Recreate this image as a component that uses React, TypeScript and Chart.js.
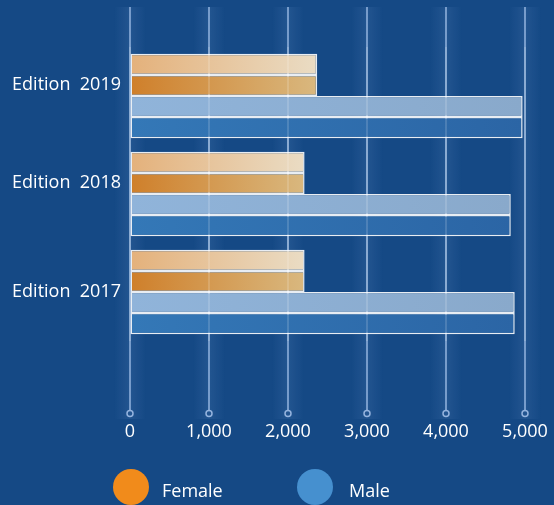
import React, { useEffect, useRef } from "react";
import { Chart, registerables } from "chart.js";

Chart.register(...registerables);

const categories = ["Edition  2019", "Edition  2018", "Edition  2017"];
const femaleValues = [2370, 2210, 2210];
const maleValues = [4970, 4820, 4870];
const xTickMin = 0;
const xTickMax = 5000;
const xTickStep = 1000;
const seriesNames = ["Female", "Male"];
const legendColors = ["#f18b1b", "#4690cf"];

const FONT = "'Open Sans', 'DejaVu Sans', sans-serif";

function barGradient(left: string, right: string) {
  return (ctx: any) => {
    const chart = ctx.chart;
    const xs = chart.scales && chart.scales.x;
    if (!xs || !chart.chartArea || ctx.raw == null) return left;
    const x0 = xs.getPixelForValue(0);
    const x1 = xs.getPixelForValue(ctx.raw);
    if (!isFinite(x0) || !isFinite(x1) || x1 === x0) return left;
    const g = chart.ctx.createLinearGradient(x0, 0, x1, 0);
    g.addColorStop(0, left);
    g.addColorStop(1, right);
    return g;
  };
}

const gridPlugin = {
  id: "customGrid",
  beforeDatasetsDraw(chart: any) {
    const { ctx } = chart;
    const xs = chart.scales.x;
    ctx.save();
    xs.ticks.forEach((_t: any, i: number) => {
      const x = xs.getPixelForTick(i);
      const g = ctx.createLinearGradient(x - 16, 0, x + 16, 0);
      g.addColorStop(0, "rgba(130,170,225,0)");
      g.addColorStop(0.5, "rgba(130,170,225,0.13)");
      g.addColorStop(1, "rgba(130,170,225,0)");
      ctx.fillStyle = g;
      ctx.fillRect(x - 16, 7, 32, 412);
      ctx.strokeStyle = "rgba(170,198,236,0.85)";
      ctx.lineWidth = 1.5;
      ctx.beginPath();
      ctx.moveTo(x, 7);
      ctx.lineTo(x, 410);
      ctx.stroke();
      ctx.beginPath();
      ctx.arc(x, 413.5, 3, 0, Math.PI * 2);
      ctx.stroke();
    });
    ctx.restore();
  },
  afterDatasetsDraw(chart: any) {
    const { ctx, chartArea } = chart;
    const xs = chart.scales.x;
    ctx.save();
    ctx.strokeStyle = "rgba(255,255,255,0.2)";
    ctx.lineWidth = 1.5;
    xs.ticks.forEach((_t: any, i: number) => {
      const x = xs.getPixelForTick(i);
      ctx.beginPath();
      ctx.moveTo(x, chartArea.top);
      ctx.lineTo(x, chartArea.bottom);
      ctx.stroke();
    });
    ctx.restore();
  },
};

export default function App() {
  const ref = useRef<HTMLCanvasElement | null>(null);

  useEffect(() => {
    document.body.style.margin = "0";
    if (!ref.current) return;
    const border = "rgba(255,255,255,0.9)";
    const common = {
      borderColor: border,
      borderWidth: 1.5,
      borderSkipped: false,
      categoryPercentage: 0.86,
      barPercentage: 1,
    };
    const chart = new Chart(ref.current, {
      type: "bar",
      data: {
        labels: categories,
        datasets: [
          { label: seriesNames[0], data: femaleValues, backgroundColor: barGradient("#e4b17b", "#eadcc4"), ...common },
          { label: seriesNames[0], data: femaleValues, backgroundColor: barGradient("#cf7f2a", "#d9b87f"), ...common },
          { label: seriesNames[1], data: maleValues, backgroundColor: barGradient("#90b4da", "#89a9cb"), ...common },
          { label: seriesNames[1], data: maleValues, backgroundColor: barGradient("#3478b7", "#2b65a5"), ...common },
        ] as any,
      },
      options: {
        indexAxis: "y",
        animation: false,
        responsive: false,
        maintainAspectRatio: false,
        layout: { padding: { top: 47, right: 29, left: 0, bottom: 0 } },
        plugins: { legend: { display: false }, tooltip: { enabled: false } },
        scales: {
          x: {
            min: xTickMin,
            max: xTickMax,
            grid: {
              display: true,
              drawOnChartArea: false,
              drawTicks: true,
              tickLength: 76,
              color: "rgba(0,0,0,0)",
            },
            border: { display: false },
            ticks: {
              stepSize: xTickStep,
              color: "#ffffff",
              padding: 4,
              font: { family: FONT, size: 18 },
            },
            afterFit: (scale: any) => {
              scale.height = 164;
            },
          },
          y: {
            grid: { display: false, drawTicks: false },
            border: { display: false },
            ticks: {
              color: "#ffffff",
              padding: 9,
              font: { family: FONT, size: 18 },
              callback: function (this: any, value: any, index: number) {
                const label = this.getLabelForValue(value);
                return index < categories.length - 1 ? [label, ""] : label;
              },
            },
            afterFit: (scale: any) => {
              scale.width = 130;
            },
          },
        },
      } as any,
      plugins: [gridPlugin],
    });
    return () => chart.destroy();
  }, []);

  const legendText: React.CSSProperties = {
    position: "absolute",
    top: 478,
    fontFamily: FONT,
    fontSize: 18,
    lineHeight: "24px",
    color: "#ffffff",
  };
  const dot = (left: number, color: string): React.CSSProperties => ({
    position: "absolute",
    left,
    top: 469,
    width: 36,
    height: 36,
    borderRadius: "50%",
    background: color,
  });

  return (
    <div
      style={{
        position: "absolute",
        left: 0,
        top: 0,
        width: 554,
        height: 505,
        overflow: "hidden",
        background: "#154985",
      }}
    >
      <canvas ref={ref} width={554} height={505} style={{ display: "block" }} />
      <div style={dot(113, legendColors[0])} />
      <div style={{ ...legendText, left: 162 }}>{seriesNames[0]}</div>
      <div style={dot(297, legendColors[1])} />
      <div style={{ ...legendText, left: 349 }}>{seriesNames[1]}</div>
    </div>
  );
}
